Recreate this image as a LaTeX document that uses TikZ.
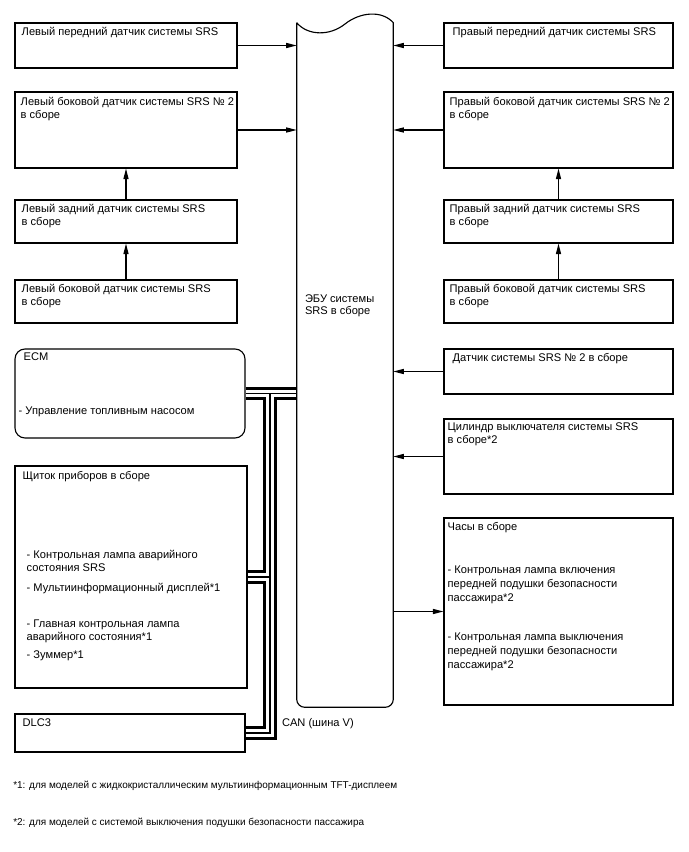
\documentclass[tikz,border=0pt]{standalone}
\usepackage{fontspec}
\setmainfont{Liberation Sans}
\usepackage{tikz}
\usetikzlibrary{arrows.meta, positioning, backgrounds}

\begin{document}
\begin{tikzpicture}[
    box/.style={rectangle, draw=black, line width=0.8pt, inner sep=0pt},
    roundbox/.style={box, rounded corners=0.25cm},
    txt/.style={anchor=north west, inner sep=0pt, align=left,
                font=\fontsize{7.9}{9}\selectfont},
    notetxt/.style={anchor=north west, inner sep=0pt, font=\fontsize{7.1}{9}\selectfont},
    arr/.style={-{Triangle[length=7.5pt, width=3.6pt]}, line width=0.8pt},
    canbus/.style={line width=9.5pt, draw=black,
                   postaction={draw=white, line width=5.4pt},
                   postaction={draw=black, line width=0.8pt}}
]
\useasboundingbox (0,0) rectangle (17.2,-21.3);

% ECU in the middle
\node[inner sep=0pt, minimum width=2.4cm, minimum height=17.1cm] (ecu) at (8.625, -9.125) {};
\draw[line width=0.8pt] (ecu.north west)
    .. controls (7.7,-0.9) and (8.25,-0.9) .. (8.625,-0.6)
    .. controls (9.0,-0.3) and (9.55,-0.25) .. (ecu.north east)
    [rounded corners=0.2cm] -- (ecu.south east) -- (ecu.south west) -- (ecu.north west);
\node[txt] (ecutxt) at ([xshift=0.2cm, yshift=1.775cm]ecu.west) {ЭБУ системы\\SRS в сборе};

% left sensors
\node[box, minimum width=5.55cm, minimum height=1.125cm] (l1) at (3.15, -1.1375) {};
\node[txt] at ([xshift=0.175cm, yshift=-0.125cm]l1.north west) {Левый передний датчик системы SRS};
\node[box, minimum width=5.55cm, minimum height=1.9cm] (l2) at (3.15, -3.25) {};
\node[txt] at ([xshift=0.15cm, yshift=-0.15cm]l2.north west) {Левый боковой датчик системы SRS № 2\\в сборе};
\node[box, minimum width=5.55cm, minimum height=1.075cm] (l3) at (3.15, -5.5375) {};
\node[txt] at ([xshift=0.175cm, yshift=-0.125cm]l3.north west) {Левый задний датчик системы SRS\\в сборе};
\node[box, minimum width=5.55cm, minimum height=1.075cm] (l4) at (3.15, -7.5375) {};
\node[txt] at ([xshift=0.175cm, yshift=-0.125cm]l4.north west) {Левый боковой датчик системы SRS\\в сборе};

% right sensors
\node[box, minimum width=5.725cm, minimum height=1.125cm] (r1) at (13.9625, -1.1375) {};
\node[txt] at ([xshift=0.225cm, yshift=-0.125cm]r1.north west) {Правый передний датчик системы SRS};
\node[box, minimum width=5.725cm, minimum height=1.9cm] (r2) at (13.9625, -3.25) {};
\node[txt] at ([xshift=0.15cm, yshift=-0.15cm]r2.north west) {Правый боковой датчик системы SRS № 2\\в сборе};
\node[box, minimum width=5.725cm, minimum height=1.075cm] (r3) at (13.9625, -5.5375) {};
\node[txt] at ([xshift=0.15cm, yshift=-0.125cm]r3.north west) {Правый задний датчик системы SRS\\в сборе};
\node[box, minimum width=5.725cm, minimum height=1.075cm] (r4) at (13.9625, -7.5375) {};
\node[txt] at ([xshift=0.15cm, yshift=-0.125cm]r4.north west) {Правый боковой датчик системы SRS\\в сборе};
\node[box, minimum width=5.725cm, minimum height=1.125cm] (r5) at (13.9625, -9.2875) {};
\node[txt] at ([xshift=0.225cm, yshift=-0.125cm]r5.north west) {Датчик системы SRS № 2 в сборе};
\node[box, minimum width=5.725cm, minimum height=1.875cm] (r6) at (13.9625, -11.4125) {};
\node[txt] at ([xshift=0.1cm, yshift=-0.1cm]r6.north west) {Цилиндр выключателя системы SRS\\в сборе*2};
\node[box, minimum width=5.725cm, minimum height=4.675cm] (r7) at (13.9625, -15.2875) {};
\node[txt] at ([xshift=0.1cm, yshift=-0.125cm]r7.north west) {Часы в сборе};
\node[txt, font=\fontsize{7.9}{10}\selectfont] at ([xshift=0.1cm, yshift=-1.2cm]r7.north west)
    {- Контрольная лампа включения\\передней подушки безопасности\\пассажира*2};
\node[txt, font=\fontsize{7.9}{10}\selectfont] at ([xshift=0.1cm, yshift=-2.875cm]r7.north west)
    {- Контрольная лампа выключения\\передней подушки безопасности\\пассажира*2};

% CAN side
\node[roundbox, minimum width=5.75cm, minimum height=2.225cm] (ecm) at (3.25, -9.8375) {};
\node[txt] at ([xshift=0.225cm, yshift=-0.1cm]ecm.north west) {ECM};
\node[txt] at ([xshift=0.1cm, yshift=-1.45cm]ecm.north west) {- Управление топливным насосом};
\node[box, minimum width=5.8cm, minimum height=5.55cm] (clus) at (3.275, -14.425) {};
\node[txt] at ([xshift=0.2cm, yshift=-0.15cm]clus.north west) {Щиток приборов в сборе};
\node[txt] at ([xshift=0.3cm, yshift=-2.125cm]clus.north west) {- Контрольная лампа аварийного\\состояния SRS};
\node[txt] at ([xshift=0.3cm, yshift=-2.95cm]clus.north west) {- Мультиинформационный дисплей*1};
\node[txt] at ([xshift=0.3cm, yshift=-3.85cm]clus.north west) {- Главная контрольная лампа\\аварийного состояния*1};
\node[txt] at ([xshift=0.3cm, yshift=-4.625cm]clus.north west) {- Зуммер*1};
\node[box, minimum width=5.75cm, minimum height=0.95cm] (dlc) at (3.25, -18.325) {};
\node[txt] at ([xshift=0.2cm, yshift=-0.125cm]dlc.north west) {DLC3};
\node[txt] (cantxt) at ([xshift=-0.375cm, yshift=-0.275cm]ecu.south west) {CAN (шина V)};

% bus
\coordinate (canx) at (6.75, -9.8375);
\begin{scope}[on background layer]
\draw[canbus] (ecm.east) -- (ecm.east -| ecu.west)
    (canx) -- (canx |- dlc.east) -- (dlc.east)
    (clus.east) -- (clus.east -| canx);
\end{scope}

% arrows
\draw[arr] (l1.east) -- (l1.east -| ecu.west);
\draw[arr] (l2.east) -- (l2.east -| ecu.west);
\draw[arr] (l4.north) -- (l3.south);
\draw[arr] (l3.north) -- (l2.south);
\draw[arr] (r1.west) -- (r1.west -| ecu.east);
\draw[arr] (r2.west) -- (r2.west -| ecu.east);
\draw[arr] (r4.north) -- (r3.south);
\draw[arr] (r3.north) -- (r2.south);
\draw[arr] (r5.west) -- (r5.west -| ecu.east);
\draw[arr] (r6.west) -- (r6.west -| ecu.east);
\draw[arr] (r7.west -| ecu.east) -- (r7.west);

% notes
\node[notetxt] (note1) at (0.325, -19.525) {*1: для моделей с жидкокристаллическим мультиинформационным TFT-дисплеем};
\node[notetxt] (note2) at (0.325, -20.45) {*2: для моделей с системой выключения подушки безопасности пассажира};
\end{tikzpicture}
\end{document}
